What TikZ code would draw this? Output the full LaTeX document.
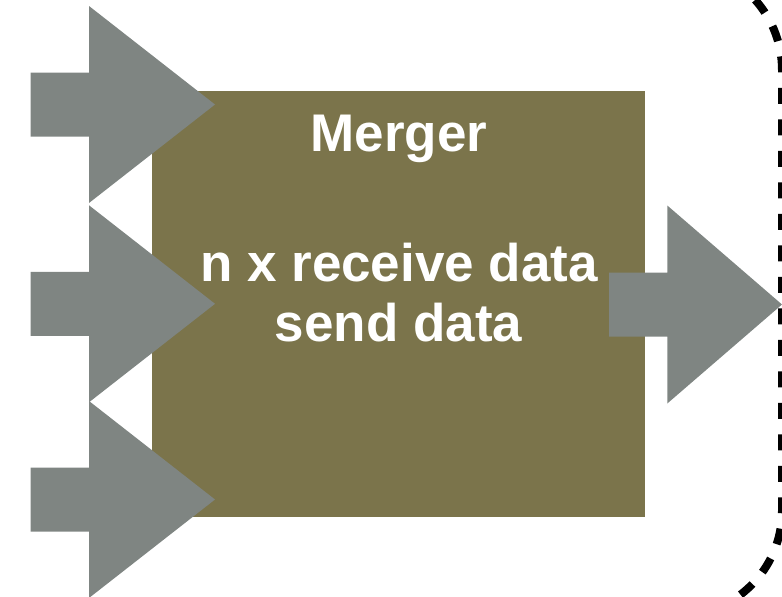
\documentclass[tikz,border=0pt]{standalone}
\usepackage{fontspec}
\setmainfont{Liberation Sans}
\definecolor{boxolive}{HTML}{7B744B}
\definecolor{arrowgray}{HTML}{7F8582}
\begin{document}
\begin{tikzpicture}[x=1pt,y=-1pt,
  mergerbox/.style={draw=none,fill=boxolive,rectangle,inner sep=0pt,
    minimum width=493.3pt,minimum height=426pt},
  blocktext/.style={text=white,font=\fontsize{53}{60}\selectfont\bfseries,
    anchor=base,inner sep=0pt},
  blockarrow/.style={fill=arrowgray,draw=none},
  boundary/.style={draw=black,line width=8pt,
    dash pattern=on 16pt off 15.5pt,dash phase=23.8pt,
    rounded corners=105pt}]
\useasboundingbox (0,0) rectangle (782,597);
\clip (0,0) rectangle (782,597);

% processing block
\node[mergerbox] (merger) at (398.35,303.7) {};

% text inside the block
\node[blocktext] (title) at (399,151.7) {Merger};
\node[blocktext] (recv) at (399,281.5) {n x receive data};
\node[blocktext] (send) at (398.5,341.7) {send data};

% three incoming block arrows
\foreach \cy/\nm in {104.5/inA,303.8/inB,499.5/inC}{
  \coordinate (\nm) at (215,\cy);
  \fill[blockarrow] (30.5,\cy-32) -- (89,\cy-32) -- (89,\cy-98.5)
    -- (\nm) -- (89,\cy+98.5) -- (89,\cy+32) -- (30.5,\cy+32) -- cycle;
}

% outgoing block arrow
\coordinate (out) at (782,304.5);
\fill[blockarrow] (609,272.5) -- (667.3,272.5) -- (667.3,205.5) -- (out)
  -- (667.3,403.5) -- (667.3,336.5) -- (609,336.5) -- cycle;

% dashed boundary of the next stage
\draw[boundary] (600,-35) -- (782,-35) -- (782,616) -- (600,616);
\end{tikzpicture}
\end{document}
